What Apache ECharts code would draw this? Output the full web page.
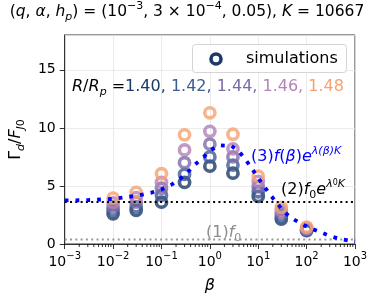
<!DOCTYPE html>
<html><head><meta charset="utf-8">
<script src="https://cdn.jsdelivr.net/npm/echarts@6/dist/echarts.min.js"></script>
<style>html,body{margin:0;padding:0;background:#fff}#c{width:374px;height:299px}</style>
</head><body><div id="c"></div>
<script>
// ---- data ----
const betas = [0.01, 0.03, 0.1, 0.3, 1, 3, 10, 30, 100];
const ratioLabels = ['1.40', '1.42', '1.44', '1.46', '1.48'];
const sim140 = [2.6, 2.9, 3.6, 5.3, 6.7, 6.1, 4.1, 2.15, 1.15];
const sim142 = [2.9, 3.2, 4.2, 6.0, 7.5, 6.8, 4.5, 2.4, 1.2];
const sim144 = [3.2, 3.6, 4.8, 7.0, 8.6, 7.5, 4.95, 2.65, 1.27];
const sim146 = [3.55, 4.0, 5.3, 8.1, 9.7, 8.2, 5.4, 2.9, 1.35];
const sim148 = [3.95, 4.45, 6.05, 9.4, 11.3, 9.45, 5.85, 3.15, 1.45];
const curveBeta = [0.001, 0.003, 0.01, 0.03, 0.06, 0.1, 0.16, 0.24, 0.35, 0.5, 0.75, 1, 1.6, 2.8, 4, 5.4, 7.4, 10, 13, 18, 25, 34, 49, 80, 117, 190, 310, 510, 850, 1000];
const curveVals = [3.75, 3.78, 3.88, 4.15, 4.4, 4.7, 5.1, 5.6, 6.2, 6.86, 7.5, 8.05, 8.5, 8.45, 7.97, 7.3, 6.5, 5.67, 5.0, 4.2, 3.47, 2.78, 2.22, 1.72, 1.37, 1.03, 0.67, 0.42, 0.25, 0.22];
const level2 = 3.62;   // (2) f0 e^{lambda0 K}
const level1 = 0.38;   // (1) f0
const xRange = [0.001, 1000];
const yTicks = [0, 5, 10, 15];
const yMax = 18;
const minorTicks = [];
for (let e = -3; e < 3; e++) for (let m = 2; m <= 9; m++) minorTicks.push(m * Math.pow(10, e));

const colors = ['#1b3a66', '#3e5b93', '#7b6ba7', '#b680b9', '#f4a270'];
const simSets = [sim140, sim142, sim144, sim146, sim148];
const FONT = 'DejaVu Sans';

const chart = echarts.init(document.getElementById('c'), null, {renderer: 'canvas'});

const series = simSets.map((vals, i) => ({
  type: 'scatter', name: ratioLabels[i], z: 2,
  data: betas.map((b, j) => [b, vals[j]]),
  symbol: 'circle', symbolSize: 10.2,
  itemStyle: {color: 'rgba(255,255,255,0)', borderColor: colors[i], borderWidth: 3.6},
  emphasis: {disabled: true}, silent: true
}));
series.push({
  type: 'line', z: 4, showSymbol: false, silent: true,
  data: curveBeta.map((b, i) => [b, curveVals[i]]),
  lineStyle: {color: '#0000ff', width: 3.8, type: [3.8, 7], cap: 'butt'}
});
series.push({
  type: 'line', z: 3, showSymbol: false, silent: true,
  data: [[xRange[0], level2], [xRange[1], level2]],
  lineStyle: {color: '#000', width: 2, type: [2, 3.3], cap: 'butt'}
});
series.push({
  type: 'line', z: 3, showSymbol: false, silent: true,
  data: [[xRange[0], level1], [xRange[1], level1]],
  lineStyle: {color: '#999', width: 2, type: [2, 3.3], cap: 'butt'}
});
series.push({
  type: 'custom', z: 6, silent: true, clip: false,
  data: minorTicks.map(v => [v, 0]),
  renderItem: function (params, api) {
    const p = api.coord([api.value(0), 0]);
    return {type: 'line', shape: {x1: p[0], y1: p[1], x2: p[0], y2: p[1] + 3},
      style: {stroke: '#000', lineWidth: 0.8}};
  }
});

function sup(e) { return e < 0 ? '\u2212' + (-e) : '' + e; }

function makeRich(color, fs) {
  const s = Math.round(fs * 0.7);
  const base = {fontFamily: FONT, fill: color, color: color};
  return {
    n: Object.assign({fontSize: fs, lineHeight: 22, verticalAlign: 'middle'}, base),
    i: Object.assign({fontSize: fs, fontStyle: 'italic', lineHeight: 22, verticalAlign: 'middle'}, base),
    sp: Object.assign({fontSize: s, lineHeight: 13, verticalAlign: 'top'}, base),
    spi: Object.assign({fontSize: s, fontStyle: 'italic', lineHeight: 13, verticalAlign: 'top'}, base),
    sps: Object.assign({fontSize: 8, lineHeight: 18, verticalAlign: 'top'}, base),
    sbi: Object.assign({fontSize: s, fontStyle: 'italic', lineHeight: 12, verticalAlign: 'bottom'}, base),
    sb: Object.assign({fontSize: s, lineHeight: 12, verticalAlign: 'bottom'}, base)
  };
}

// R/Rp label rich
const rrRich = makeRich('#000', 16);
ratioLabels.forEach((l, i) => { rrRich['c' + i] = {fontSize: 16, fontFamily: FONT, lineHeight: 22, fill: colors[i], color: colors[i]}; });
const rrText = '{i|R}{n|/}{i|R}{sbi|p}{n| =}' + ratioLabels.map((l, i) => '{c' + i + '|' + l + (i < 4 ? ', ' : '') + '}').join('');

const option = {
  animation: false,
  backgroundColor: '#fff',
  grid: {left: 56, right: 19, top: 35, bottom: 48.3, show: true, borderColor: '#333', borderWidth: 1, backgroundColor: 'transparent'},
  xAxis: {
    type: 'log', logBase: 10, min: xRange[0], max: xRange[1], splitNumber: 6,
    name: '\u03b2', nameLocation: 'middle', nameGap: 34,
    nameTextStyle: {fontFamily: FONT, fontSize: 16, fontStyle: 'italic', color: '#000'},
    axisLine: {show: true, onZero: false, lineStyle: {color: '#333', width: 1}},
    axisTick: {show: true, inside: false, length: 5, lineStyle: {color: '#000', width: 0.8}},
    splitLine: {show: true, lineStyle: {color: '#e6e6e6', width: 0.8}},
    axisLabel: {
      margin: 7, color: '#000',
      formatter: v => '{a|10}{b|' + sup(Math.round(Math.log10(v))) + '}',
      rich: {
        a: {fontFamily: FONT, fontSize: 14, lineHeight: 18, verticalAlign: 'bottom'},
        b: {fontFamily: FONT, fontSize: 10, lineHeight: 11, verticalAlign: 'top'}
      }
    }
  },
  yAxis: {
    type: 'value', min: 0, max: yMax, interval: 5,
    name: '{g|\u0393}{s|d}{g|/}{gi|F}{s|J}{s0|0}', nameLocation: 'middle', nameGap: 34, nameRotate: 90,
    nameTextStyle: {
      color: '#000',
      rich: {
        g: {fontFamily: FONT, fontSize: 16, lineHeight: 22, verticalAlign: 'middle'},
        gi: {fontFamily: FONT, fontSize: 16, fontStyle: 'italic', lineHeight: 22, verticalAlign: 'middle'},
        s: {fontFamily: FONT, fontSize: 11, fontStyle: 'italic', lineHeight: 12, verticalAlign: 'bottom'},
        s0: {fontFamily: FONT, fontSize: 11, lineHeight: 12, verticalAlign: 'bottom'}
      }
    },
    axisLine: {show: true, lineStyle: {color: '#333', width: 1}},
    axisTick: {show: true, inside: false, length: 5, lineStyle: {color: '#000', width: 0.8}},
    splitLine: {show: true, lineStyle: {color: '#e6e6e6', width: 0.8}},
    axisLabel: {
      margin: 9, color: '#000', fontFamily: FONT, fontSize: 14, showMaxLabel: false,
      formatter: v => (yTicks.indexOf(v) >= 0 ? '' + v : '')
    }
  },
  graphic: [
    {type: 'text', z: 10, silent: true, style: {x: 187, y: 12, align: 'center', verticalAlign: 'middle',
      text: '{n|(}{i|q}{n|, }{i|\u03b1}{n|, }{i|h}{sbi|p}{n|) = (10}{sp|\u22123}{n|, 3 \u00d7 10}{sp|\u22124}{n|, 0.05), }{i|K}{n| = 10667}',
      rich: makeRich('#000', 15.5)}},
    {type: 'rect', z: 9, silent: true, shape: {x: 192.5, y: 44.5, width: 154, height: 28, r: 3},
      style: {fill: 'rgba(255,255,255,0.85)', stroke: '#d5d5d5', lineWidth: 1}},
    {type: 'circle', z: 10, silent: true, shape: {cx: 216, cy: 59, r: 5}, style: {fill: 'none', stroke: colors[0], lineWidth: 3.6}},
    {type: 'text', z: 10, silent: true, style: {x: 246, y: 59, verticalAlign: 'middle', text: 'simulations', fontFamily: FONT, fontSize: 16, fill: '#000'}},
    {type: 'text', z: 10, silent: true, style: {x: 72, y: 87, verticalAlign: 'middle', text: rrText, rich: rrRich}},
    {type: 'text', z: 10, silent: true, style: {x: 251, y: 157, verticalAlign: 'middle',
      text: '{n|(3)}{i|f}{n|(}{i|\u03b2}{n|)}{i|e}{spi|\u03bb(\u03b2)K}', rich: makeRich('#0000ff', 16)}},
    {type: 'text', z: 10, silent: true, style: {x: 281, y: 190, verticalAlign: 'middle',
      text: '{n|(2)}{i|f}{sb|0}{i|e}{spi|\u03bb}{sps|0}{spi|K}', rich: makeRich('#000', 16)}},
    {type: 'text', z: 10, silent: true, style: {x: 206, y: 233, verticalAlign: 'middle',
      text: '{n|(1)}{i|f}{sb|0}', rich: makeRich('#8c8c8c', 16)}}
  ],
  series: series
};
chart.setOption(option);
</script></body></html>
